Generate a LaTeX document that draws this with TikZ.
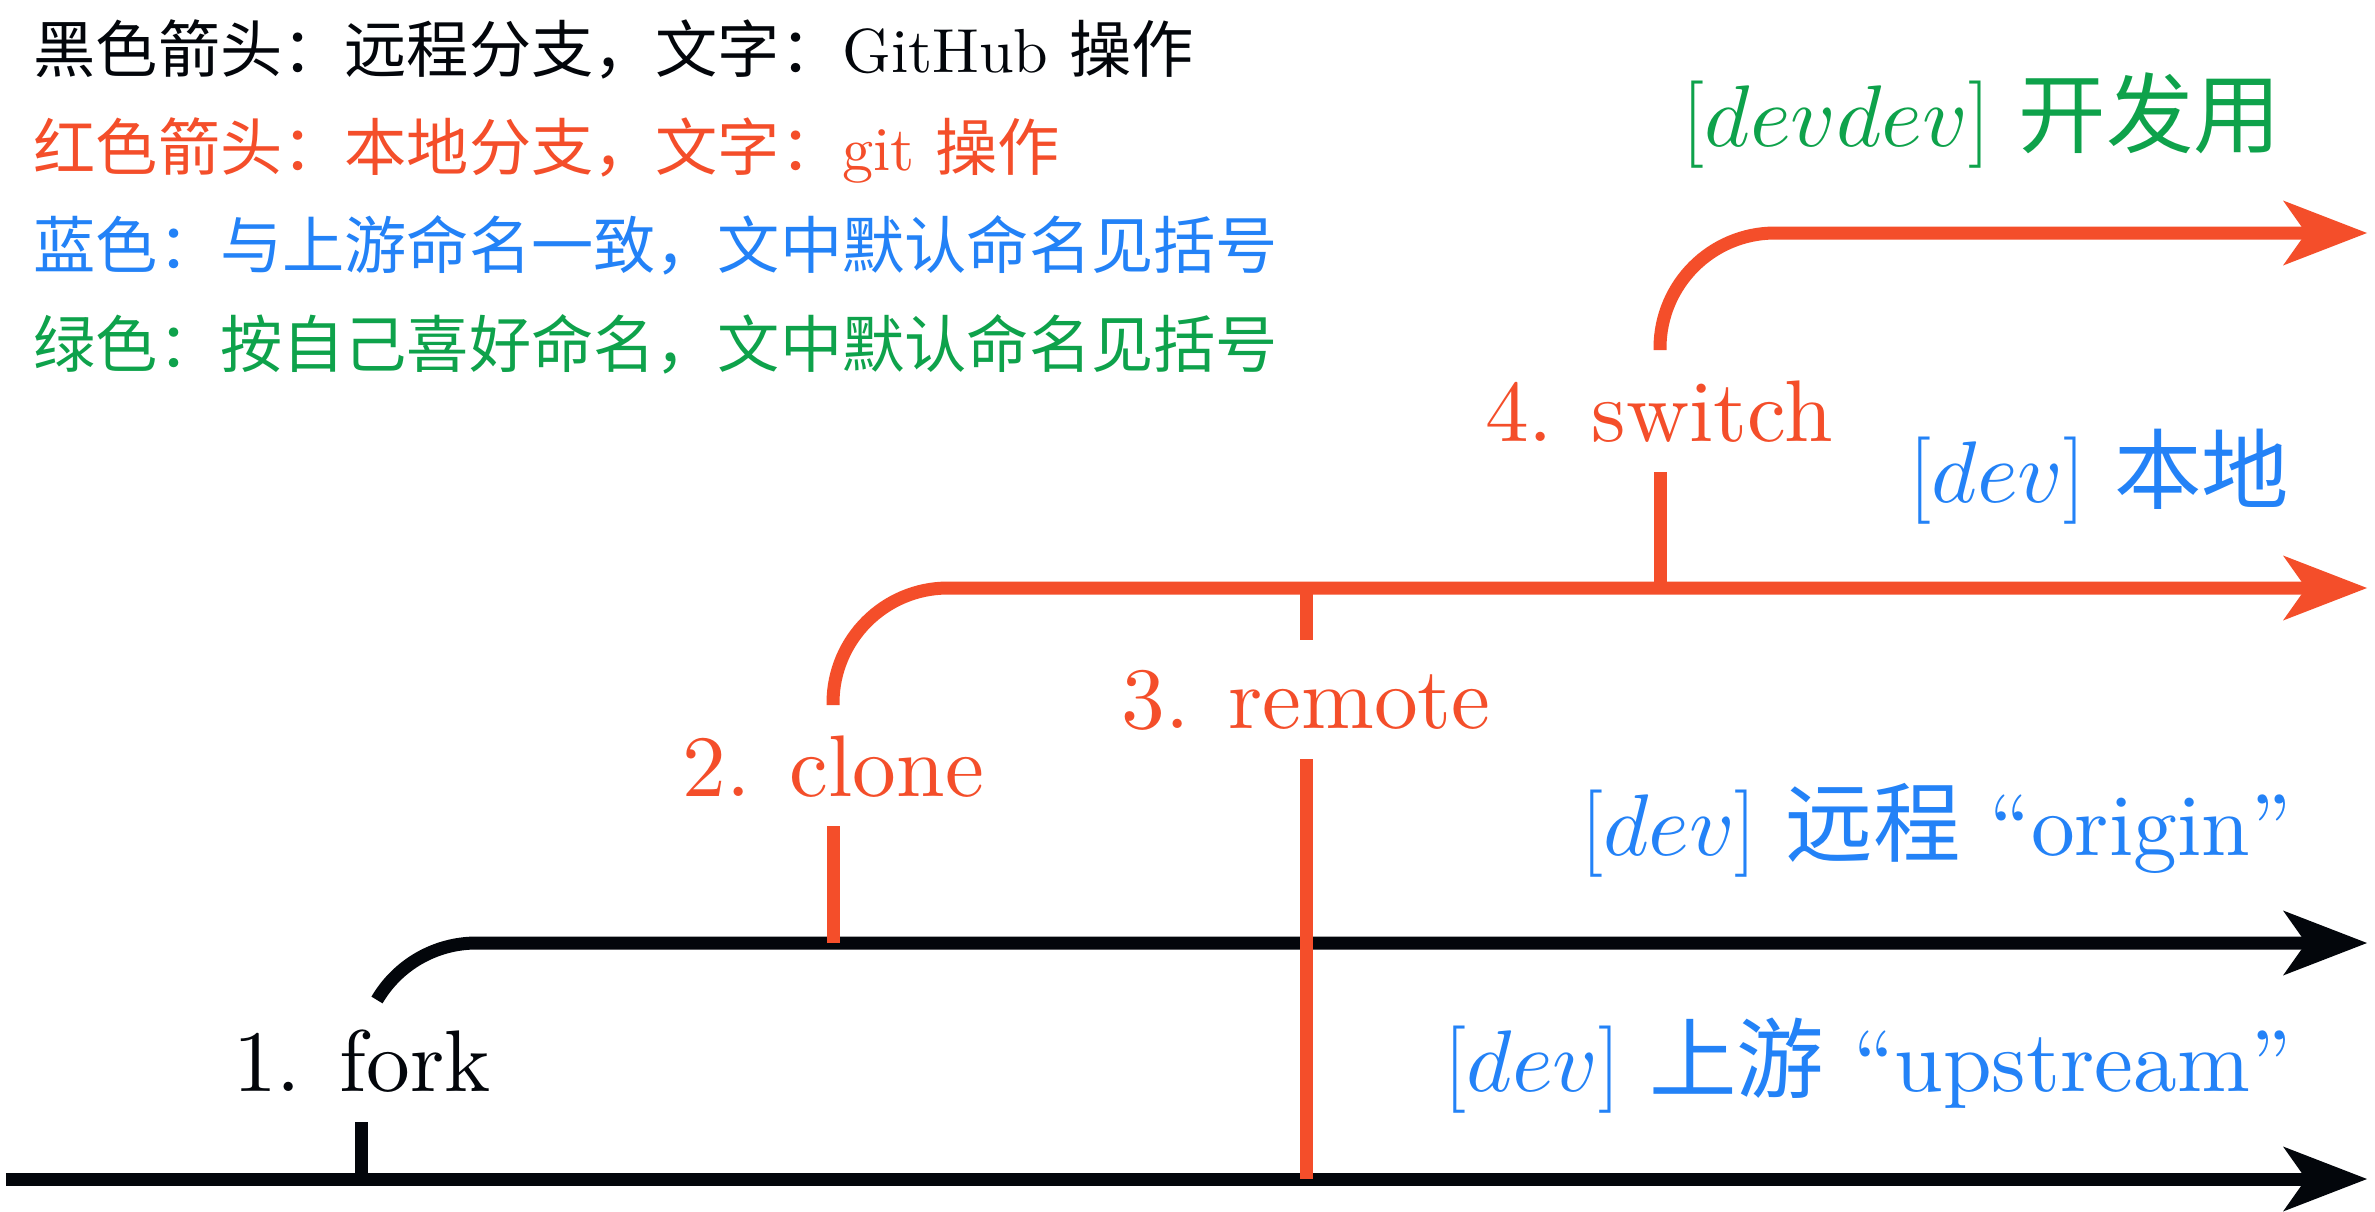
\documentclass[tikz,border=0pt]{standalone}
\usepackage{fontspec}
\setmainfont{lmroman10-regular.otf}[ItalicFont=lmroman10-italic.otf, BoldFont=lmroman10-bold.otf]
\newfontfamily\cjk{Noto Sans CJK SC}
\DeclareFontShape{OML}{cmm}{m}{it}{<->cmmi10}{}
\usetikzlibrary{arrows.meta}
\definecolor{ink}{HTML}{03060B}
\definecolor{gred}{HTML}{F44E2A}
\definecolor{gblue}{HTML}{2382F7}
\definecolor{ggreen}{HTML}{0EA24B}
\tikzset{
  trunk/.style={line width=1.3mm, draw=ink},
  redtrunk/.style={line width=1.3mm, draw=gred},
  tipped/.style={-{Stealth[length=8.4mm,width=6.5mm,inset=2.3mm,line width=0pt]}},
  lab/.style={font=\fontsize{24.88}{30}\selectfont, inner sep=0pt, anchor=base},
  rlab/.style={font=\fontsize{24.88}{30}\selectfont, inner sep=0pt, anchor=base east, text=gblue},
  leg/.style={font=\fontsize{17.7}{21}\selectfont, inner sep=0pt, anchor=base west}
}
\begin{document}
\begin{tikzpicture}
\fill[white] (0,0) rectangle (23.75,12.11);
\useasboundingbox (0,0) rectangle (23.75,12.11);

% legend
\node[leg, text=ink] (leg1) at (0.33,11.39) {{\cjk 黑色箭头：远程分支，文字：}GitHub {\cjk 操作}};
\node[leg, text=gred] (leg2) at (0.33,10.41) {{\cjk 红色箭头：本地分支，文字：}git {\cjk 操作}};
\node[leg, text=gblue] (leg3) at (0.33,9.43) {{\cjk 蓝色：与上游命名一致，文中默认命名见括号}};
\node[leg, text=ggreen] (leg4) at (0.33,8.44) {{\cjk 绿色：按自己喜好命名，文中默认命名见括号}};

% coordinates
\coordinate (upL) at (0.06,0.32);
\coordinate (upR) at (23.67,0.32);
\coordinate (forkfoot) at (3.61,0.32);
\coordinate (forktop) at (3.61,0.89);
\coordinate (forkarc) at (3.77,2.11);
\coordinate (oriR) at (23.67,2.68);
\coordinate (clonefoot) at (8.33,2.68);
\coordinate (clonetop) at (8.33,3.85);
\coordinate (clonearc) at (8.33,5.06);
\coordinate (locR) at (23.67,6.23);
\coordinate (remtop) at (13.06,6.23);
\coordinate (remtick) at (13.06,5.71);
\coordinate (remlow) at (13.06,4.52);
\coordinate (remfoot) at (13.06,0.32);
\coordinate (swfoot) at (16.60,6.23);
\coordinate (swtop) at (16.60,7.39);
\coordinate (swarc) at (16.60,8.61);
\coordinate (devR) at (23.67,9.78);

% black: upstream and origin
\draw[trunk, tipped] (upL) -- (upR);
\draw[trunk] (forkfoot) -- (forktop);
\draw[trunk, tipped] (forkarc) arc[start angle=149.7, end angle=90, radius=1.15] -- (oriR);
\node[lab, text=ink] (fork) at (3.62,1.20) {1. fork};

% red: local
\draw[redtrunk] (clonefoot) -- (clonetop);
\draw[redtrunk, tipped, rounded corners=1.15cm] (clonearc) |- (locR);
\node[lab, text=gred] (clone) at (8.335,4.15) {2. clone};

\draw[redtrunk] (remtop) -- (remtick);
\draw[redtrunk] (remlow) -- (remfoot);
\node[lab, text=gred] (remote) at (13.06,4.83) {3. remote};

\draw[redtrunk] (swfoot) -- (swtop);
\draw[redtrunk, tipped, rounded corners=1.15cm] (swarc) |- (devR);
\node[lab, text=gred] (switch) at (16.59,7.70) {4. switch};

% right labels
\node[rlab, text=ggreen] (ldevdev) at (22.82,10.65) {$[devdev]$ {\cjk 开发用}};
\node[rlab] (llocal) at (22.90,7.09) {$[dev]$ {\cjk 本地}};
\node[rlab] (lorigin) at (22.92,3.56) {$[dev]$ {\cjk 远程} “origin”};
\node[rlab] (lupstream) at (22.92,1.20) {$[dev]$ {\cjk 上游} “upstream”};
\end{tikzpicture}
\end{document}
